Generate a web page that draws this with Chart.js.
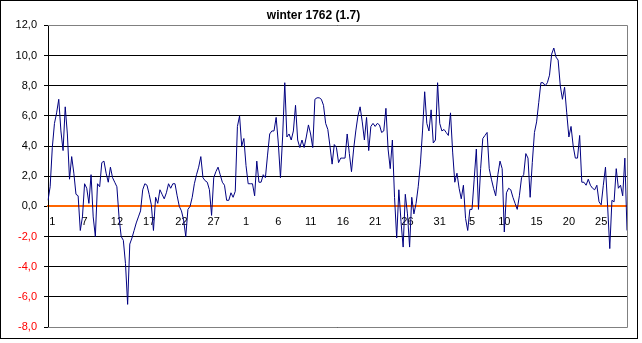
<!DOCTYPE html>
<html>
<head>
<meta charset="utf-8">
<script src="https://cdn.jsdelivr.net/npm/chart.js@4/dist/chart.umd.min.js"></script>
<style>
    body { margin: 0; background: #fff; }
    canvas { display: block; }
</style>
</head>
<body>
<canvas id="winterChart" width="642" height="343"></canvas>
<script>
// three readings a day, 1 Dec 1761 - 28 Feb 1762
const temps = [
    0.4, 1.3, 3.9, 5.5, 6.2, 7.1, 5.0, 3.7, 6.6, 4.8,
    1.8, 3.3, 2.2, 0.8, 0.7, -1.6, -0.7, 1.5, 1.2, 0.2,
    2.1, -0.7, -2.0, 1.5, 1.3, 2.9, 3.0, 2.2, 1.6, 2.6,
    1.9, 1.6, 1.3, -0.7, -2.0, -2.25, -3.8, -6.5, -2.5, -2.1,
    -1.6, -1.1, -0.7, -0.3, 1.1, 1.5, 1.4, 0.8, 0.1, -1.6,
    0.6, 0.2, 1.1, 0.8, 0.5, 0.9, 1.5, 1.2, 1.5, 1.5,
    0.7, 0.0, -0.3, -0.9, -2.0, -0.2, 0.0, 0.6, 1.5, 2.1,
    2.6, 3.3, 1.9, 1.7, 1.6, 1.1, -0.6, 1.9, 2.3, 2.6,
    2.1, 1.6, 1.4, 0.4, 0.4, 0.9, 0.6, 1.0, 5.3, 6.0,
    4.0, 4.5, 2.7, 1.5, 1.5, 1.5, 0.7, 3.0, 1.6, 1.6,
    2.1, 1.9, 3.4, 4.8, 5.0, 5.0, 5.9, 4.2, 1.9, 4.6,
    8.2, 4.6, 4.8, 4.4, 5.0, 6.7, 4.4, 3.9, 4.4, 3.9,
    4.6, 5.4, 4.8, 3.9, 7.1, 7.2, 7.2, 7.1, 6.7, 5.5,
    5.1, 4.0, 2.8, 4.1, 3.9, 2.9, 3.2, 3.2, 3.2, 4.8,
    3.5, 2.3, 3.8, 5.0, 6.0, 6.6, 5.6, 4.4, 5.9, 3.7,
    5.3, 5.5, 5.3, 5.5, 5.4, 4.9, 5.0, 6.5, 3.8, 2.5,
    4.4, 0.6, -2.1, 1.1, -1.0, -2.7, 0.8, -0.5, -2.7, 0.6,
    -0.5, 0.2, 1.3, 2.8, 5.0, 7.6, 5.5, 5.0, 6.4, 4.2,
    4.4, 8.2, 5.5, 5.0, 5.1, 4.9, 4.7, 6.2, 3.6, 1.6,
    2.2, 1.2, 0.5, 1.4, -0.8, -1.6, -0.2, -0.2, 1.8, 3.8,
    -0.2, 2.5, 4.5, 4.7, 4.9, 2.5, 1.8, 1.2, 0.7, 2.1,
    3.0, 2.5, -1.7, 0.9, 1.2, 1.1, 0.6, 0.2, -0.2, 0.7,
    1.9, 2.1, 3.5, 3.2, 0.6, 2.9, 4.9, 5.6, 6.9, 8.2,
    8.2, 8.0, 8.2, 8.7, 10.1, 10.5, 9.9, 9.7, 8.0, 7.1,
    7.9, 6.2, 4.6, 5.3, 4.0, 3.2, 3.2, 4.7, 1.6, 1.6,
    1.4, 1.8, 1.4, 1.2, 1.1, 1.4, 0.3, 0.1, 1.4, 2.6,
    0.0, -2.8, 0.4, 0.3, 2.5, 1.2, 1.4, 0.7, 3.2, -1.6
];

// day labels shown under the axis, one every 15 readings
const tickDays = ['1', '7', '12', '17', '22', '27', '1', '6', '11', '16',
    '21', '26', '31', '5', '10', '15', '20', '25'];
const firstTick = 2;
const tickStep = 15;

const labels = temps.map(() => '');
tickDays.forEach((d, k) => { labels[firstTick + k * tickStep] = d; });

const frame = {
    id: 'frame',
    afterDraw(chart) {
        const { ctx, chartArea: a } = chart;
        ctx.save();
        ctx.lineWidth = 1;
        ctx.strokeStyle = '#808080';
        ctx.beginPath();
        ctx.moveTo(a.left, Math.round(a.top) + 0.5);
        ctx.lineTo(Math.round(a.right) + 0.5, Math.round(a.top) + 0.5);
        ctx.lineTo(Math.round(a.right) + 0.5, Math.round(a.bottom) + 0.5);
        ctx.lineTo(a.left, Math.round(a.bottom) + 0.5);
        ctx.stroke();
        ctx.strokeStyle = '#000';
        ctx.strokeRect(0.5, 0.5, 637, 338);
        ctx.restore();
    }
};

const ctx = document.getElementById('winterChart');

const chart = new Chart(ctx, {
    type: 'line',
    data: {
        labels: labels,
        datasets: [{
            data: temps,
            borderColor: '#000080',
            borderWidth: 1,
            pointRadius: 0,
            tension: 0,
            fill: false
        }]
    },
    options: {
        responsive: false,
        animation: false,
        layout: {
            padding: { left: 0, right: 15, top: 0, bottom: 16 }
        },
        plugins: {
            legend: { display: false },
            tooltip: { enabled: false },
            title: {
                display: true,
                text: 'winter 1762 (1.7)',
                color: '#000',
                font: { family: 'Liberation Sans, Arial, sans-serif', size: 12, weight: 'bold' },
                padding: { top: 8, bottom: 3 }
            }
        },
        scales: {
            x: {
                position: { y: 0 },
                grid: { display: false, drawTicks: false },
                border: { color: '#FF6600', width: 2 },
                ticks: {
                    autoSkip: false,
                    maxRotation: 0,
                    padding: 9,
                    color: '#000',
                    font: { family: 'Liberation Sans, Arial, sans-serif', size: 11 }
                }
            },
            y: {
                min: -8,
                max: 12,
                afterFit: (scale) => { scale.width = 48; },
                grid: {
                    color: (c) => c.tick && c.tick.value === 0 ? 'rgba(0,0,0,0)' : '#000',
                    tickColor: '#000',
                    tickLength: 4
                },
                border: { color: '#000', width: 1 },
                ticks: {
                    stepSize: 2,
                    padding: 7,
                    color: (c) => c.tick.value < 0 ? '#FF0000' : '#000',
                    font: { family: 'Liberation Sans, Arial, sans-serif', size: 11 },
                    callback: (v) => v.toFixed(1).replace('.', ',')
                }
            }
        }
    },
    plugins: [frame]
});
</script>
</body>
</html>
